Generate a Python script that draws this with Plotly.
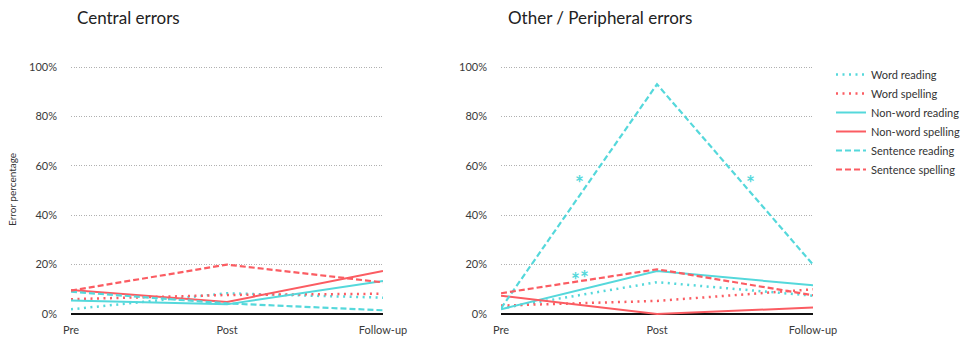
import plotly.graph_objects as go

# Measurement points
timepoints = ["Pre", "Post", "Follow-up"]

series_names = ["Word reading", "Word spelling", "Non-word reading",
                "Non-word spelling", "Sentence reading", "Sentence spelling"]

# Central errors (% of responses)
central_word_reading = [1.9, 8.4, 6.6]
central_word_spelling = [6.0, 7.7, 8.2]
central_nonword_reading = [5.5, 3.9, 13.4]
central_nonword_spelling = [9.7, 4.9, 17.4]
central_sentence_reading = [9.0, 4.3, 1.5]
central_sentence_spelling = [9.5, 20.0, 12.8]

# Other / peripheral errors (% of responses)
other_word_reading = [2.3, 12.9, 7.4]
other_word_spelling = [3.4, 5.3, 10.0]
other_nonword_reading = [1.9, 17.4, 11.6]
other_nonword_spelling = [7.4, 0.0, 2.6]
other_sentence_reading = [2.3, 93.0, 20.0]
other_sentence_spelling = [8.4, 18.1, 7.6]

# Significance markers on the peripheral panel: (x position, y value, label)
sig_marks = [(0.5, 54.7, "*"), (1.6, 54.7, "*"), (0.48, 15.6, "*"), (0.535, 16.5, "*")]

y_ticks = [0, 20, 40, 60, 80, 100]
y_tick_text = [f"{v}%" for v in y_ticks]

CYAN = "#55d8db"
RED = "#fb5c62"
DOT = "2px,4.5px"
DASH = "6px,3px"
styles = [(CYAN, DOT, 2.5), (RED, DOT, 2.5), (CYAN, "solid", 2),
          (RED, "solid", 2), (CYAN, DASH, 2.2), (RED, DASH, 2.2)]

central = [central_word_reading, central_word_spelling, central_nonword_reading,
           central_nonword_spelling, central_sentence_reading, central_sentence_spelling]
other = [other_word_reading, other_word_spelling, other_nonword_reading,
         other_nonword_spelling, other_sentence_reading, other_sentence_spelling]

W, H = 974, 337
FONT = "Lato"

fig = go.Figure()
for i, name in enumerate(series_names):
    color, dash, width = styles[i]
    fig.add_trace(go.Scatter(x=timepoints, y=central[i], mode="lines", name=name,
                             line=dict(color=color, dash=dash, width=width),
                             xaxis="x", yaxis="y", legendgroup=name, showlegend=True))
    fig.add_trace(go.Scatter(x=timepoints, y=other[i], mode="lines", name=name,
                             line=dict(color=color, dash=dash, width=width),
                             xaxis="x2", yaxis="y2", legendgroup=name, showlegend=False))

# plot area in pixels: x 71..383 and 501..813, y 0% at 314, 100% at 67
px_per_pct = (314 - 67) / 100
y_lo, y_hi = -1, 101
ydom = [1 - (314 + 1 * px_per_pct) / H, 1 - (67 - 1 * px_per_pct) / H]

axis_y = dict(range=[y_lo, y_hi], domain=ydom, tickmode="array", tickvals=y_ticks,
              ticktext=y_tick_text, showgrid=True, gridcolor="#b0b0b0", griddash="1px,1.5px",
              gridwidth=1, zeroline=True, zerolinecolor="#111", zerolinewidth=1.5,
              showline=False, ticks="", ticklabelstandoff=13, automargin=False,
              tickfont=dict(family=FONT, size=11, color="#3a3a3a"))
axis_x = dict(type="category", range=[0, 2], showgrid=False, showline=False,
              zeroline=False, ticks="", ticklabelstandoff=6, automargin=False,
              tickfont=dict(family=FONT, size=11, color="#3a3a3a"))

fig.update_layout(
    width=W, height=H,
    margin=dict(l=0, r=0, t=0, b=0, autoexpand=False),
    paper_bgcolor="white", plot_bgcolor="white",
    font=dict(family=FONT),
    xaxis=dict(axis_x, domain=[71 / W, 383 / W], anchor="y"),
    yaxis=dict(axis_y, anchor="x"),
    xaxis2=dict(axis_x, domain=[501 / W, 813 / W], anchor="y2"),
    yaxis2=dict(axis_y, anchor="x2"),
    legend=dict(xref="container", yref="container", x=831 / W, y=1 - 60 / H,
                xanchor="left", yanchor="top",
                font=dict(family=FONT, size=11, color="#333"),
                bgcolor="rgba(0,0,0,0)", itemwidth=30, tracegroupgap=0),
    showlegend=True,
)

annotations = [
    dict(text="Central errors", x=75 / W, y=1 - 18 / H, xref="paper", yref="paper",
         xanchor="left", yanchor="middle", showarrow=False,
         font=dict(family=FONT, size=17, color="#222")),
    dict(text="Other / Peripheral errors", x=506 / W, y=1 - 18 / H, xref="paper", yref="paper",
         xanchor="left", yanchor="middle", showarrow=False,
         font=dict(family=FONT, size=17, color="#222")),
    dict(text="Error percentage", x=12 / W, y=1 - 190 / H, xref="paper", yref="paper",
         textangle=-90, xanchor="center", yanchor="middle", showarrow=False,
         font=dict(family=FONT, size=10, color="#333")),
]
# asterisks sit high in their text box, so nudge them down onto the marked value
for xv, yv, label in sig_marks:
    annotations.append(dict(text=f"<b>{label}</b>", x=xv, y=yv, xref="x2", yref="y2",
                            showarrow=False, xanchor="center", yanchor="middle", yshift=-4,
                            font=dict(family=FONT, size=21, color=CYAN)))
fig.update_layout(annotations=annotations)

fig.write_html("out.html")
